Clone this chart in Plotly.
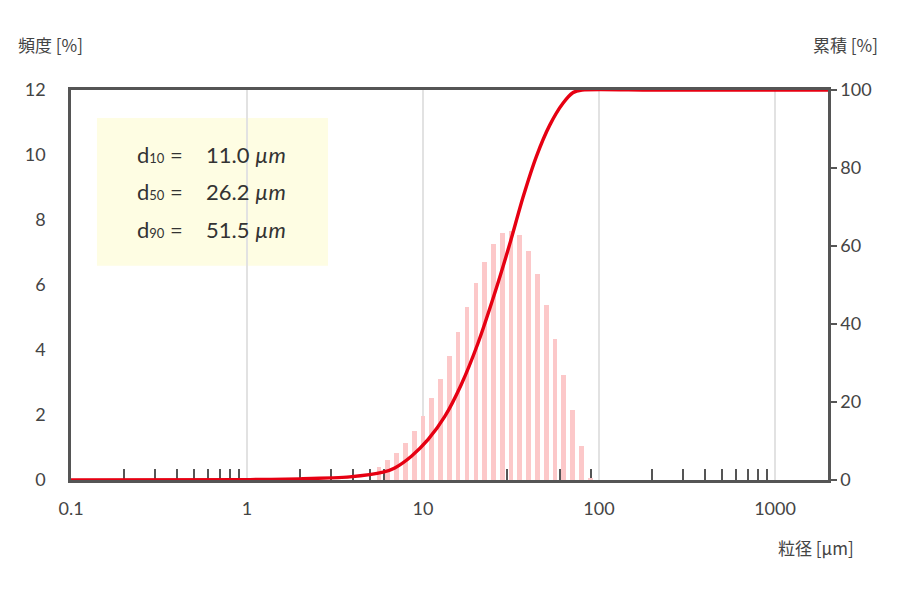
import numpy as np
import plotly.graph_objects as go

# frequency histogram (bar centres in um, frequency in %)
bin_sizes = [5.62, 6.31, 7.08, 7.94, 8.91, 10.0, 11.2, 12.6, 14.1, 15.8, 17.8, 20.0, 22.4,
             25.1, 28.2, 31.6, 35.5, 39.8, 44.7, 50.1, 56.2, 63.1, 70.8, 79.4, 89.1]
freq = [0.41, 0.61, 0.84, 1.14, 1.52, 1.96, 2.51, 3.12, 3.83, 4.56, 5.31, 6.07, 6.71,
        7.27, 7.61, 7.65, 7.53, 7.06, 6.34, 5.40, 4.34, 3.24, 2.14, 1.06, 0.07]

# cumulative curve
cum_sizes = [0.1, 1.04, 1.99, 3.83, 5.93, 6.91, 8.59, 10.7, 13.3, 16.5, 20.5, 25.6,
             31.1, 37.0, 44.1, 52.5, 62.4, 71.0, 80.0, 200, 2000]
cum = [0, 0.1, 0.3, 0.8, 2.0, 3.1, 6.1, 10.4, 16.3, 24.5, 35.0, 48.0,
       60.5, 72.5, 83.0, 91.0, 96.6, 99.3, 100, 100, 100]

stats = [("10", "11.0"), ("50", "26.2"), ("90", "51.5")]
x_ticks = [0.1, 1, 10, 100, 1000]
x_labels = ["0.1", "1", "10", "100", "1000"]
minor_digits = [2, 3, 4, 5, 6, 7, 8, 9]

AX = "#555555"
TXT = "#444444"
RED = "#e60012"
x_max = 2000

# x axis is drawn in log10 units (linear axis) so the bars keep an even width
minor_vals = [d * dec for dec in x_ticks[:-1] for d in minor_digits]

fig = go.Figure()

fig.add_trace(go.Bar(
    x=np.log10(bin_sizes), y=freq, xaxis="x", yaxis="y",
    width=0.027, marker=dict(color="#fcc8c9", line=dict(width=0)),
    showlegend=False, hoverinfo="skip",
))

fig.add_trace(go.Scatter(
    x=np.log10(cum_sizes), y=cum, xaxis="x", yaxis="y2", mode="lines",
    line=dict(color=RED, width=3.4, shape="spline", smoothing=0.7),
    cliponaxis=False, showlegend=False,
))

tick_font = dict(family="Lato, Noto Sans", size=18, color=TXT)

fig.update_layout(
    width=900, height=590,
    margin=dict(l=71, r=72, t=90, b=109.5),
    paper_bgcolor="white", plot_bgcolor="white",
    bargap=0,
    xaxis=dict(
        range=[-1, np.log10(x_max)],
        tickmode="array", tickvals=np.log10(x_ticks), ticktext=x_labels,
        tickfont=tick_font, ticks="", ticklabelstandoff=11,
        showgrid=True, gridcolor="#e2e2e2", gridwidth=1.5,
        showline=True, linecolor=AX, linewidth=2.5, mirror=True,
        minor=dict(tickmode="array", tickvals=np.log10(minor_vals), ticks="inside",
                   ticklen=11, tickwidth=1.6, tickcolor=AX, showgrid=False),
        layer="below traces", zeroline=False,
    ),
    yaxis=dict(
        range=[0, 12], dtick=2, tickfont=tick_font, ticks="",
        ticklabelstandoff=19, showgrid=False, zeroline=False,
        showline=True, linecolor=AX, linewidth=2.5, mirror=True,
        layer="below traces",
    ),
    yaxis2=dict(
        range=[0, 100], dtick=20, overlaying="y", side="right",
        tickfont=tick_font, ticks="outside", ticklen=6, tickwidth=1.6,
        tickcolor=AX, ticklabelstandoff=0, showgrid=False, zeroline=False,
        showline=True, linecolor=AX, linewidth=2.5,
        layer="below traces",
    ),
)

# stats box
fig.add_shape(type="rect", xref="paper", yref="paper",
              x0=0.0343, x1=0.3395, y0=0.5493, y1=0.9283,
              fillcolor="#fefde3", line=dict(width=0), layer="below")

box_font = dict(family="Lato, Noto Sans", size=22, color="#333333")
for (sub, val), yy in zip(stats, [0.8335, 0.7388, 0.6415]):
    fig.add_annotation(xref="paper", yref="paper", x=0.0845, y=yy,
                       xanchor="left", yanchor="middle", showarrow=False,
                       text=f"d<span style='font-size:13px'>{sub}</span> =",
                       font=box_font)
    fig.add_annotation(xref="paper", yref="paper", x=0.2865, y=yy,
                       xanchor="right", yanchor="middle", showarrow=False,
                       text=f"{val} <i>µm</i>", font=box_font)

title_font = dict(family="Noto Sans CJK JP", size=17, color=TXT)
fig.add_annotation(xref="paper", yref="paper", x=-0.072, y=1.1178,
                   xanchor="left", yanchor="middle", showarrow=False,
                   text="頻度 [%]", font=title_font)
fig.add_annotation(xref="paper", yref="paper", x=1.0687, y=1.1178,
                   xanchor="right", yanchor="middle", showarrow=False,
                   text="累積 [%]", font=title_font)
fig.add_annotation(xref="paper", yref="paper", x=1.037, y=-0.1729,
                   xanchor="right", yanchor="middle", showarrow=False,
                   text="粒径 [µm]", font=title_font)

fig.write_html("out.html", config={"displayModeBar": False},
               post_script="document.body.style.margin='0';")
